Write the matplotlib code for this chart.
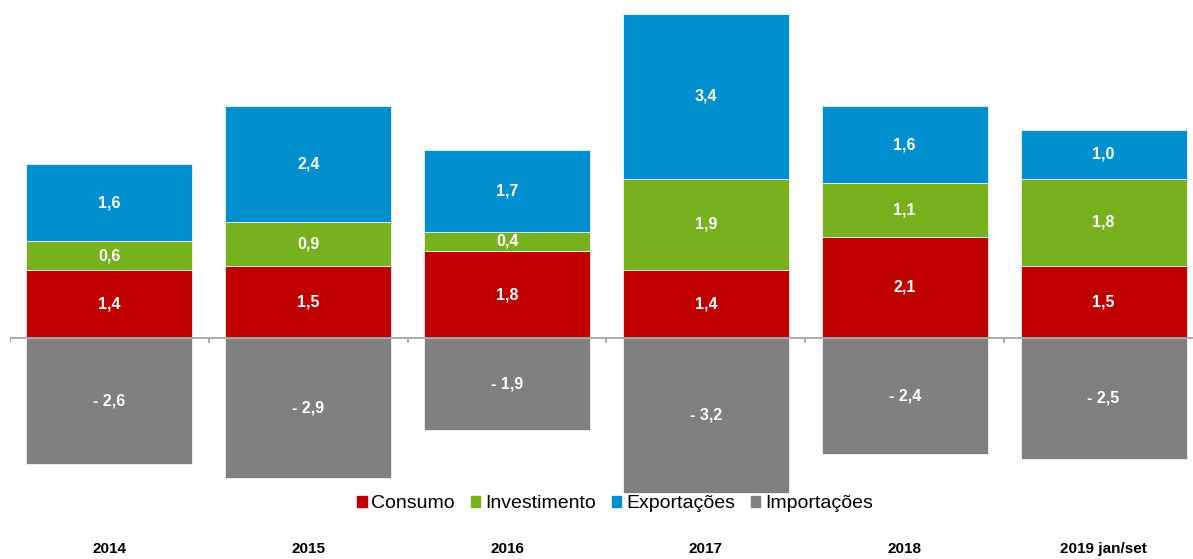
import matplotlib.pyplot as plt
from matplotlib.patches import Patch
import matplotlib.transforms as mtransforms

# dados
anos = ['2014', '2015', '2016', '2017', '2018', '2019 jan/set']
consumo = [1.4, 1.5, 1.8, 1.4, 2.1, 1.5]
investimento = [0.6, 0.9, 0.4, 1.9, 1.1, 1.8]
exportacoes = [1.6, 2.4, 1.7, 3.4, 1.6, 1.0]
importacoes = [-2.6, -2.9, -1.9, -3.2, -2.4, -2.5]

cores = {'Consumo': '#C00000', 'Investimento': '#77B21E',
         'Exportações': '#0090D0', 'Importações': '#808080'}

plt.rcParams['font.family'] = ['Liberation Sans', 'DejaVu Sans']

fig = plt.figure(figsize=(11.93, 5.59), dpi=100)
W, H = 1193, 559
# eixo ultrapassa a borda direita, como no original
ax = fig.add_axes([10 / W, (H - 495) / H, 1193 / W, 485 / H])

x = list(range(len(anos)))
larg = 0.835

def fmt(v):
    s = '%.1f' % abs(v)
    s = s.replace('.', ',')
    return ('- ' + s) if v < 0 else s

base = [0] * len(anos)
for nome, serie in [('Consumo', consumo), ('Investimento', investimento),
                    ('Exportações', exportacoes)]:
    ax.bar(x, serie, larg, bottom=base, color=cores[nome],
           edgecolor='#F2F2F2', linewidth=0.6, zorder=2)
    for i, v in enumerate(serie):
        ax.text(x[i], base[i] + v / 2, fmt(v), ha='center', va='center',
                color='white', fontsize=11.5, fontweight='bold', zorder=4)
    base = [b + v for b, v in zip(base, serie)]

ax.bar(x, importacoes, larg, color=cores['Importações'],
       edgecolor='#F2F2F2', linewidth=0.6, zorder=2)
for i, v in enumerate(importacoes):
    ax.text(x[i], v / 2, fmt(v), ha='center', va='center',
            color='white', fontsize=11.5, fontweight='bold', zorder=4)

ax.set_xlim(-0.5, len(anos) - 0.5)
ax.set_ylim(-3.25, 6.79)

# linha do zero com marcas entre categorias
ax.axhline(0, color='#A6A6A6', linewidth=1.3, zorder=3)
ax.vlines([i - 0.5 for i in range(len(anos) + 1)], -0.11, 0,
          color='#A6A6A6', linewidth=1.3, zorder=3)

for s in ax.spines.values():
    s.set_visible(False)
ax.set_xticks([])
ax.set_yticks([])

trans = mtransforms.blended_transform_factory(ax.transData, ax.transAxes)
for i, a in enumerate(anos):
    ax.text(x[i], -54 / 485, a, transform=trans, ha='center', va='center',
            fontsize=11, fontweight='bold', color='black')

handles = [Patch(color=c, label=n) for n, c in cores.items()]
fig.legend(handles=handles, loc='center', bbox_to_anchor=(615 / W, 1 - 504 / H),
           ncol=4, frameon=False, fontsize=14, handlelength=0.5,
           handleheight=0.5, handletextpad=0.25, columnspacing=0.8)

fig.savefig('out.png', dpi=100)
